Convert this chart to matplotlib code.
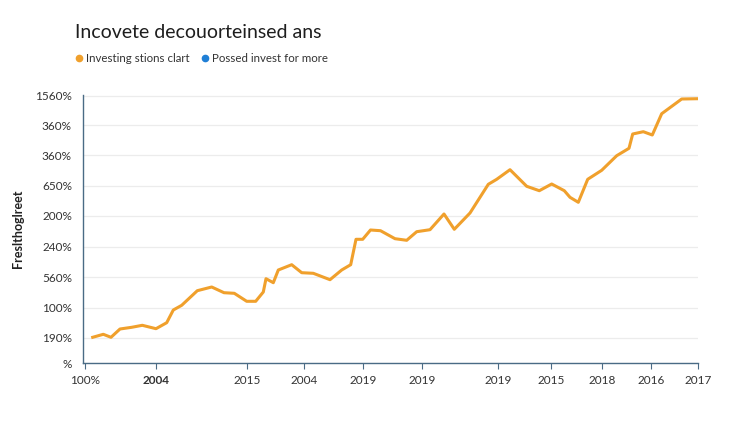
import matplotlib
matplotlib.use("Agg")
import matplotlib.pyplot as plt
from matplotlib.lines import Line2D

plt.rcParams['font.family'] = ['Lato', 'DejaVu Sans']

# series (position along axis, height above baseline)
x_pos = [9.7, 20.3, 28, 37, 48.7, 59.3, 73, 83.7, 90.3, 98.7, 114.3, 128.7,
         141, 151.3, 163.7, 172.7, 180.3, 183, 190.3, 195.3, 208.7, 218.7,
         230.3, 247, 258.7, 267.7, 273, 279.7, 287.5, 297.5, 312, 323.7,
         333.7, 347, 361, 371.3, 387, 405.3, 413.7, 427, 443.7, 456.3,
         468.7, 481.3, 487, 495.3, 504.7, 518.7, 533.7, 546, 549.7, 560.3,
         569.3, 578.7, 598.7, 615.3]
y_val = [25.7, 28.7, 25.7, 34, 35.7, 37.7, 34.3, 40.3, 53, 57.7, 72.3, 76,
         70.3, 69.7, 61.7, 61.7, 71, 84.3, 80.3, 93, 98.3, 90.3, 89.7, 83.3,
         93, 98.3, 123.7, 123.7, 133, 132.3, 124.3, 122.7, 131.3, 133.3, 149,
         133.7, 150, 178.7, 183.7, 193.3, 176.7, 172.3, 179, 172.3, 165.7,
         160.7, 183.7, 192.7, 207.3, 214.7, 229, 231.3, 228, 249.3, 264, 264.3]

ytick_pos = [0, 25, 55.5, 86, 116.5, 147, 177.5, 208, 238, 267]
ytick_lbl = ['%', '190%', '100%', '560%', '240%', '200%', '650%', '360%',
             '360%', '1560%']
xtick_pos = [2, 73, 164, 221, 280, 339, 415, 468, 519, 568, 615]
xtick_lbl = ['100%', '2004', '2015', '2004', '2019', '2019', '2019', '2015',
             '2018', '2016', '2017']

orange = '#f0a02c'
blue = '#1f7fd6'
spine = '#4a6b85'

fig = plt.figure(figsize=(7.5, 4.21), dpi=100)
ax = fig.add_axes([83 / 750, 1 - 363 / 421, 615 / 750, 268 / 421])

ax.plot(x_pos, y_val, color=orange, lw=2.2, solid_joinstyle='round')

ax.set_xlim(0, 615)
ax.set_ylim(0, 268)
ax.set_yticks(ytick_pos)
ax.set_yticklabels(ytick_lbl)
ax.set_xticks(xtick_pos)
ax.set_xticklabels(xtick_lbl)
ax.get_xticklabels()[1].set_fontweight('bold')

ax.grid(axis='y', color='#ececec', lw=0.9)
ax.set_axisbelow(True)
for s in ['top', 'right']:
    ax.spines[s].set_visible(False)
for s in ['left', 'bottom']:
    ax.spines[s].set_color(spine)
    ax.spines[s].set_linewidth(1.0)
ax.tick_params(axis='y', length=0, pad=8, labelsize=8.5, labelcolor='#333333')
ax.tick_params(axis='x', length=4, color=spine, pad=5, labelsize=8.5,
               labelcolor='#333333')

ax.set_ylabel('Freslthoglreet', fontsize=9, fontweight='bold', color='#222222',
              labelpad=8)

fig.text(75 / 750, 1 - 32 / 421, 'Incovete decouorteinsed ans', fontsize=14,
         color='#1e1e1e', va='center')

handles = [Line2D([], [], marker='o', ls='', color=orange, markersize=4.5),
           Line2D([], [], marker='o', ls='', color=blue, markersize=4.5)]
fig.legend(handles, ['Investing stions clart', 'Possed invest for more'],
           loc='center left', bbox_to_anchor=(66 / 750, 1 - 59 / 421),
           frameon=False, fontsize=8.3, handletextpad=0.0, columnspacing=0.8,
           ncol=2, handlelength=1.2, borderpad=0, labelcolor='#333333')

fig.savefig('out.png', dpi=100, facecolor='white')
